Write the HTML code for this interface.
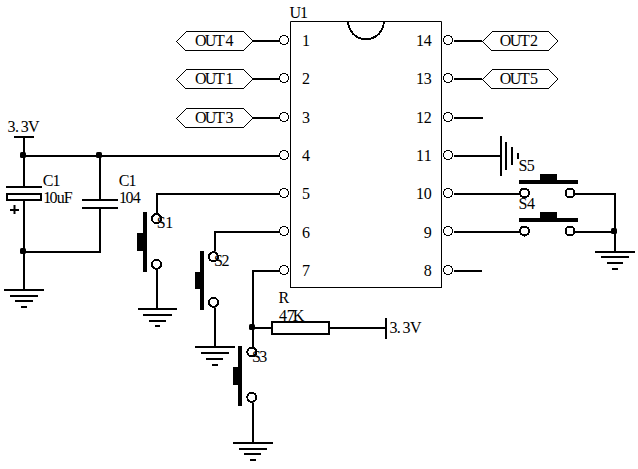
<!DOCTYPE html>
<html><head><meta charset="utf-8"><style>
html,body{margin:0;padding:0;background:#fff;width:638px;height:469px;overflow:hidden}
svg{display:block}
text{font-family:"Liberation Serif",serif;fill:#000;stroke:none}
</style></head><body>
<svg width="638" height="469" viewBox="0 0 638 469" stroke="#000" stroke-linecap="butt">
<rect x="0" y="0" width="638" height="469" fill="#fff" stroke="none"/>
<path d="M290.5 288 V21.5 H441.5 V288" fill="none" stroke-width="1"/>
<line x1="290" y1="287.5" x2="442" y2="287.5" stroke-width="1"/>
<path d="M348.2 21.5 A17.8 17.8 0 0 0 383.8 21.5" fill="none" stroke-width="2" shape-rendering="crispEdges"/>
<text x="289.50 300.10" y="18" font-size="16">U1</text>
<text x="302.00" y="46" font-size="16">1</text>
<text x="302.00" y="84" font-size="16">2</text>
<text x="302.00" y="123" font-size="16">3</text>
<text x="302.00" y="161" font-size="16">4</text>
<text x="302.00" y="199" font-size="16">5</text>
<text x="302.00" y="238" font-size="16">6</text>
<text x="302.00" y="276" font-size="16">7</text>
<text x="415.90 423.80" y="46" font-size="16">14</text>
<text x="415.90 423.80" y="84" font-size="16">13</text>
<text x="415.90 423.80" y="123" font-size="16">12</text>
<text x="415.90 423.80" y="161" font-size="16">11</text>
<text x="415.90 423.80" y="199" font-size="16">10</text>
<text x="423.70" y="238" font-size="16">9</text>
<text x="423.70" y="276" font-size="16">8</text>
<path d="M282 35h1v1h-1zM283 35h1v1h-1zM284 35h1v1h-1zM285 35h1v1h-1zM280 36h1v1h-1zM281 36h1v1h-1zM286 36h1v1h-1zM287 36h1v1h-1zM280 37h1v1h-1zM287 37h1v1h-1zM279 38h1v1h-1zM288 38h1v1h-1zM279 39h1v1h-1zM288 39h1v1h-1zM279 40h1v1h-1zM288 40h1v1h-1zM279 41h1v1h-1zM288 41h1v1h-1zM280 42h1v1h-1zM287 42h1v1h-1zM280 43h1v1h-1zM281 43h1v1h-1zM286 43h1v1h-1zM287 43h1v1h-1zM282 44h1v1h-1zM283 44h1v1h-1zM284 44h1v1h-1zM285 44h1v1h-1zM282 73h1v1h-1zM283 73h1v1h-1zM284 73h1v1h-1zM285 73h1v1h-1zM280 74h1v1h-1zM281 74h1v1h-1zM286 74h1v1h-1zM287 74h1v1h-1zM280 75h1v1h-1zM287 75h1v1h-1zM279 76h1v1h-1zM288 76h1v1h-1zM279 77h1v1h-1zM288 77h1v1h-1zM279 78h1v1h-1zM288 78h1v1h-1zM279 79h1v1h-1zM288 79h1v1h-1zM280 80h1v1h-1zM287 80h1v1h-1zM280 81h1v1h-1zM281 81h1v1h-1zM286 81h1v1h-1zM287 81h1v1h-1zM282 82h1v1h-1zM283 82h1v1h-1zM284 82h1v1h-1zM285 82h1v1h-1zM282 112h1v1h-1zM283 112h1v1h-1zM284 112h1v1h-1zM285 112h1v1h-1zM280 113h1v1h-1zM281 113h1v1h-1zM286 113h1v1h-1zM287 113h1v1h-1zM280 114h1v1h-1zM287 114h1v1h-1zM279 115h1v1h-1zM288 115h1v1h-1zM279 116h1v1h-1zM288 116h1v1h-1zM279 117h1v1h-1zM288 117h1v1h-1zM279 118h1v1h-1zM288 118h1v1h-1zM280 119h1v1h-1zM287 119h1v1h-1zM280 120h1v1h-1zM281 120h1v1h-1zM286 120h1v1h-1zM287 120h1v1h-1zM282 121h1v1h-1zM283 121h1v1h-1zM284 121h1v1h-1zM285 121h1v1h-1zM282 150h1v1h-1zM283 150h1v1h-1zM284 150h1v1h-1zM285 150h1v1h-1zM280 151h1v1h-1zM281 151h1v1h-1zM286 151h1v1h-1zM287 151h1v1h-1zM280 152h1v1h-1zM287 152h1v1h-1zM279 153h1v1h-1zM288 153h1v1h-1zM279 154h1v1h-1zM288 154h1v1h-1zM279 155h1v1h-1zM288 155h1v1h-1zM279 156h1v1h-1zM288 156h1v1h-1zM280 157h1v1h-1zM287 157h1v1h-1zM280 158h1v1h-1zM281 158h1v1h-1zM286 158h1v1h-1zM287 158h1v1h-1zM282 159h1v1h-1zM283 159h1v1h-1zM284 159h1v1h-1zM285 159h1v1h-1zM282 188h1v1h-1zM283 188h1v1h-1zM284 188h1v1h-1zM285 188h1v1h-1zM280 189h1v1h-1zM281 189h1v1h-1zM286 189h1v1h-1zM287 189h1v1h-1zM280 190h1v1h-1zM287 190h1v1h-1zM279 191h1v1h-1zM288 191h1v1h-1zM279 192h1v1h-1zM288 192h1v1h-1zM279 193h1v1h-1zM288 193h1v1h-1zM279 194h1v1h-1zM288 194h1v1h-1zM280 195h1v1h-1zM287 195h1v1h-1zM280 196h1v1h-1zM281 196h1v1h-1zM286 196h1v1h-1zM287 196h1v1h-1zM282 197h1v1h-1zM283 197h1v1h-1zM284 197h1v1h-1zM285 197h1v1h-1zM282 226h1v1h-1zM283 226h1v1h-1zM284 226h1v1h-1zM285 226h1v1h-1zM280 227h1v1h-1zM281 227h1v1h-1zM286 227h1v1h-1zM287 227h1v1h-1zM280 228h1v1h-1zM287 228h1v1h-1zM279 229h1v1h-1zM288 229h1v1h-1zM279 230h1v1h-1zM288 230h1v1h-1zM279 231h1v1h-1zM288 231h1v1h-1zM279 232h1v1h-1zM288 232h1v1h-1zM280 233h1v1h-1zM287 233h1v1h-1zM280 234h1v1h-1zM281 234h1v1h-1zM286 234h1v1h-1zM287 234h1v1h-1zM282 235h1v1h-1zM283 235h1v1h-1zM284 235h1v1h-1zM285 235h1v1h-1zM282 265h1v1h-1zM283 265h1v1h-1zM284 265h1v1h-1zM285 265h1v1h-1zM280 266h1v1h-1zM281 266h1v1h-1zM286 266h1v1h-1zM287 266h1v1h-1zM280 267h1v1h-1zM287 267h1v1h-1zM279 268h1v1h-1zM288 268h1v1h-1zM279 269h1v1h-1zM288 269h1v1h-1zM279 270h1v1h-1zM288 270h1v1h-1zM279 271h1v1h-1zM288 271h1v1h-1zM280 272h1v1h-1zM287 272h1v1h-1zM280 273h1v1h-1zM281 273h1v1h-1zM286 273h1v1h-1zM287 273h1v1h-1zM282 274h1v1h-1zM283 274h1v1h-1zM284 274h1v1h-1zM285 274h1v1h-1zM446 35h1v1h-1zM447 35h1v1h-1zM448 35h1v1h-1zM449 35h1v1h-1zM444 36h1v1h-1zM445 36h1v1h-1zM450 36h1v1h-1zM451 36h1v1h-1zM444 37h1v1h-1zM451 37h1v1h-1zM443 38h1v1h-1zM452 38h1v1h-1zM443 39h1v1h-1zM452 39h1v1h-1zM443 40h1v1h-1zM452 40h1v1h-1zM443 41h1v1h-1zM452 41h1v1h-1zM444 42h1v1h-1zM451 42h1v1h-1zM444 43h1v1h-1zM445 43h1v1h-1zM450 43h1v1h-1zM451 43h1v1h-1zM446 44h1v1h-1zM447 44h1v1h-1zM448 44h1v1h-1zM449 44h1v1h-1zM446 73h1v1h-1zM447 73h1v1h-1zM448 73h1v1h-1zM449 73h1v1h-1zM444 74h1v1h-1zM445 74h1v1h-1zM450 74h1v1h-1zM451 74h1v1h-1zM444 75h1v1h-1zM451 75h1v1h-1zM443 76h1v1h-1zM452 76h1v1h-1zM443 77h1v1h-1zM452 77h1v1h-1zM443 78h1v1h-1zM452 78h1v1h-1zM443 79h1v1h-1zM452 79h1v1h-1zM444 80h1v1h-1zM451 80h1v1h-1zM444 81h1v1h-1zM445 81h1v1h-1zM450 81h1v1h-1zM451 81h1v1h-1zM446 82h1v1h-1zM447 82h1v1h-1zM448 82h1v1h-1zM449 82h1v1h-1zM446 112h1v1h-1zM447 112h1v1h-1zM448 112h1v1h-1zM449 112h1v1h-1zM444 113h1v1h-1zM445 113h1v1h-1zM450 113h1v1h-1zM451 113h1v1h-1zM444 114h1v1h-1zM451 114h1v1h-1zM443 115h1v1h-1zM452 115h1v1h-1zM443 116h1v1h-1zM452 116h1v1h-1zM443 117h1v1h-1zM452 117h1v1h-1zM443 118h1v1h-1zM452 118h1v1h-1zM444 119h1v1h-1zM451 119h1v1h-1zM444 120h1v1h-1zM445 120h1v1h-1zM450 120h1v1h-1zM451 120h1v1h-1zM446 121h1v1h-1zM447 121h1v1h-1zM448 121h1v1h-1zM449 121h1v1h-1zM446 150h1v1h-1zM447 150h1v1h-1zM448 150h1v1h-1zM449 150h1v1h-1zM444 151h1v1h-1zM445 151h1v1h-1zM450 151h1v1h-1zM451 151h1v1h-1zM444 152h1v1h-1zM451 152h1v1h-1zM443 153h1v1h-1zM452 153h1v1h-1zM443 154h1v1h-1zM452 154h1v1h-1zM443 155h1v1h-1zM452 155h1v1h-1zM443 156h1v1h-1zM452 156h1v1h-1zM444 157h1v1h-1zM451 157h1v1h-1zM444 158h1v1h-1zM445 158h1v1h-1zM450 158h1v1h-1zM451 158h1v1h-1zM446 159h1v1h-1zM447 159h1v1h-1zM448 159h1v1h-1zM449 159h1v1h-1zM446 188h1v1h-1zM447 188h1v1h-1zM448 188h1v1h-1zM449 188h1v1h-1zM444 189h1v1h-1zM445 189h1v1h-1zM450 189h1v1h-1zM451 189h1v1h-1zM444 190h1v1h-1zM451 190h1v1h-1zM443 191h1v1h-1zM452 191h1v1h-1zM443 192h1v1h-1zM452 192h1v1h-1zM443 193h1v1h-1zM452 193h1v1h-1zM443 194h1v1h-1zM452 194h1v1h-1zM444 195h1v1h-1zM451 195h1v1h-1zM444 196h1v1h-1zM445 196h1v1h-1zM450 196h1v1h-1zM451 196h1v1h-1zM446 197h1v1h-1zM447 197h1v1h-1zM448 197h1v1h-1zM449 197h1v1h-1zM446 226h1v1h-1zM447 226h1v1h-1zM448 226h1v1h-1zM449 226h1v1h-1zM444 227h1v1h-1zM445 227h1v1h-1zM450 227h1v1h-1zM451 227h1v1h-1zM444 228h1v1h-1zM451 228h1v1h-1zM443 229h1v1h-1zM452 229h1v1h-1zM443 230h1v1h-1zM452 230h1v1h-1zM443 231h1v1h-1zM452 231h1v1h-1zM443 232h1v1h-1zM452 232h1v1h-1zM444 233h1v1h-1zM451 233h1v1h-1zM444 234h1v1h-1zM445 234h1v1h-1zM450 234h1v1h-1zM451 234h1v1h-1zM446 235h1v1h-1zM447 235h1v1h-1zM448 235h1v1h-1zM449 235h1v1h-1zM446 265h1v1h-1zM447 265h1v1h-1zM448 265h1v1h-1zM449 265h1v1h-1zM444 266h1v1h-1zM445 266h1v1h-1zM450 266h1v1h-1zM451 266h1v1h-1zM444 267h1v1h-1zM451 267h1v1h-1zM443 268h1v1h-1zM452 268h1v1h-1zM443 269h1v1h-1zM452 269h1v1h-1zM443 270h1v1h-1zM452 270h1v1h-1zM443 271h1v1h-1zM452 271h1v1h-1zM444 272h1v1h-1zM451 272h1v1h-1zM444 273h1v1h-1zM445 273h1v1h-1zM450 273h1v1h-1zM451 273h1v1h-1zM446 274h1v1h-1zM447 274h1v1h-1zM448 274h1v1h-1zM449 274h1v1h-1z" fill="#000" stroke="none" shape-rendering="crispEdges"/>
<path d="M186 31H244v1H186zM185 50H244v1H185z" fill="#000" stroke="none" shape-rendering="crispEdges"/>
<path d="M176 41h1v1h-1zM177 40h1v1h-1zM178 39h1v1h-1zM179 38h1v1h-1zM180 37h1v1h-1zM181 36h1v1h-1zM182 35h1v1h-1zM183 34h1v1h-1zM184 33h1v1h-1zM185 32h1v1h-1zM177 42h1v1h-1zM178 43h1v1h-1zM179 44h1v1h-1zM180 45h1v1h-1zM181 46h1v1h-1zM182 47h1v1h-1zM183 48h1v1h-1zM184 49h1v1h-1zM244 32h1v1h-1zM245 33h1v1h-1zM246 34h1v1h-1zM247 35h1v1h-1zM248 36h1v1h-1zM249 37h1v1h-1zM250 38h1v1h-1zM251 39h1v1h-1zM252 40h1v1h-1zM252 41h1v1h-1zM251 42h1v1h-1zM250 43h1v1h-1zM249 44h1v1h-1zM248 45h1v1h-1zM247 46h1v1h-1zM246 47h1v1h-1zM245 48h1v1h-1zM244 49h1v1h-1z" fill="#000" stroke="none" shape-rendering="crispEdges"/>
<text x="194.90 204.70 215.10 225.60" y="46" font-size="16">OUT4</text>
<line x1="253" y1="41" x2="280" y2="41" stroke-width="2"/>
<path d="M186 69H244v1H186zM185 88H244v1H185z" fill="#000" stroke="none" shape-rendering="crispEdges"/>
<path d="M176 79h1v1h-1zM177 78h1v1h-1zM178 77h1v1h-1zM179 76h1v1h-1zM180 75h1v1h-1zM181 74h1v1h-1zM182 73h1v1h-1zM183 72h1v1h-1zM184 71h1v1h-1zM185 70h1v1h-1zM177 80h1v1h-1zM178 81h1v1h-1zM179 82h1v1h-1zM180 83h1v1h-1zM181 84h1v1h-1zM182 85h1v1h-1zM183 86h1v1h-1zM184 87h1v1h-1zM244 70h1v1h-1zM245 71h1v1h-1zM246 72h1v1h-1zM247 73h1v1h-1zM248 74h1v1h-1zM249 75h1v1h-1zM250 76h1v1h-1zM251 77h1v1h-1zM252 78h1v1h-1zM252 79h1v1h-1zM251 80h1v1h-1zM250 81h1v1h-1zM249 82h1v1h-1zM248 83h1v1h-1zM247 84h1v1h-1zM246 85h1v1h-1zM245 86h1v1h-1zM244 87h1v1h-1z" fill="#000" stroke="none" shape-rendering="crispEdges"/>
<text x="194.90 204.70 215.10 225.60" y="84" font-size="16">OUT1</text>
<line x1="253" y1="79" x2="280" y2="79" stroke-width="2"/>
<path d="M186 108H244v1H186zM185 127H244v1H185z" fill="#000" stroke="none" shape-rendering="crispEdges"/>
<path d="M176 118h1v1h-1zM177 117h1v1h-1zM178 116h1v1h-1zM179 115h1v1h-1zM180 114h1v1h-1zM181 113h1v1h-1zM182 112h1v1h-1zM183 111h1v1h-1zM184 110h1v1h-1zM185 109h1v1h-1zM177 119h1v1h-1zM178 120h1v1h-1zM179 121h1v1h-1zM180 122h1v1h-1zM181 123h1v1h-1zM182 124h1v1h-1zM183 125h1v1h-1zM184 126h1v1h-1zM244 109h1v1h-1zM245 110h1v1h-1zM246 111h1v1h-1zM247 112h1v1h-1zM248 113h1v1h-1zM249 114h1v1h-1zM250 115h1v1h-1zM251 116h1v1h-1zM252 117h1v1h-1zM252 118h1v1h-1zM251 119h1v1h-1zM250 120h1v1h-1zM249 121h1v1h-1zM248 122h1v1h-1zM247 123h1v1h-1zM246 124h1v1h-1zM245 125h1v1h-1zM244 126h1v1h-1z" fill="#000" stroke="none" shape-rendering="crispEdges"/>
<text x="194.90 204.70 215.10 225.60" y="123" font-size="16">OUT3</text>
<line x1="253" y1="118" x2="280" y2="118" stroke-width="2"/>
<path d="M492 31H549v1H492zM491 50H549v1H491z" fill="#000" stroke="none" shape-rendering="crispEdges"/>
<path d="M482 41h1v1h-1zM483 40h1v1h-1zM484 39h1v1h-1zM485 38h1v1h-1zM486 37h1v1h-1zM487 36h1v1h-1zM488 35h1v1h-1zM489 34h1v1h-1zM490 33h1v1h-1zM491 32h1v1h-1zM483 42h1v1h-1zM484 43h1v1h-1zM485 44h1v1h-1zM486 45h1v1h-1zM487 46h1v1h-1zM488 47h1v1h-1zM489 48h1v1h-1zM490 49h1v1h-1zM549 32h1v1h-1zM550 33h1v1h-1zM551 34h1v1h-1zM552 35h1v1h-1zM553 36h1v1h-1zM554 37h1v1h-1zM555 38h1v1h-1zM556 39h1v1h-1zM557 40h1v1h-1zM557 41h1v1h-1zM556 42h1v1h-1zM555 43h1v1h-1zM554 44h1v1h-1zM553 45h1v1h-1zM552 46h1v1h-1zM551 47h1v1h-1zM550 48h1v1h-1zM549 49h1v1h-1z" fill="#000" stroke="none" shape-rendering="crispEdges"/>
<text x="499.80 509.70 519.90 529.90" y="46" font-size="16">OUT2</text>
<line x1="454" y1="41" x2="482" y2="41" stroke-width="2"/>
<path d="M492 69H549v1H492zM491 88H549v1H491z" fill="#000" stroke="none" shape-rendering="crispEdges"/>
<path d="M482 79h1v1h-1zM483 78h1v1h-1zM484 77h1v1h-1zM485 76h1v1h-1zM486 75h1v1h-1zM487 74h1v1h-1zM488 73h1v1h-1zM489 72h1v1h-1zM490 71h1v1h-1zM491 70h1v1h-1zM483 80h1v1h-1zM484 81h1v1h-1zM485 82h1v1h-1zM486 83h1v1h-1zM487 84h1v1h-1zM488 85h1v1h-1zM489 86h1v1h-1zM490 87h1v1h-1zM549 70h1v1h-1zM550 71h1v1h-1zM551 72h1v1h-1zM552 73h1v1h-1zM553 74h1v1h-1zM554 75h1v1h-1zM555 76h1v1h-1zM556 77h1v1h-1zM557 78h1v1h-1zM557 79h1v1h-1zM556 80h1v1h-1zM555 81h1v1h-1zM554 82h1v1h-1zM553 83h1v1h-1zM552 84h1v1h-1zM551 85h1v1h-1zM550 86h1v1h-1zM549 87h1v1h-1z" fill="#000" stroke="none" shape-rendering="crispEdges"/>
<text x="499.80 509.70 519.90 529.90" y="84" font-size="16">OUT5</text>
<line x1="454" y1="79" x2="482" y2="79" stroke-width="2"/>
<line x1="454" y1="118" x2="483" y2="118" stroke-width="2"/>
<line x1="454" y1="271" x2="482" y2="271" stroke-width="2"/>
<line x1="454" y1="156" x2="501" y2="156" stroke-width="2"/>
<line x1="501" y1="136" x2="501" y2="176" stroke-width="2"/>
<line x1="506" y1="142" x2="506" y2="170" stroke-width="2"/>
<line x1="512" y1="147" x2="512" y2="165" stroke-width="2"/>
<line x1="518" y1="153" x2="518" y2="159" stroke-width="2"/>
<rect x="519" y="180" width="59" height="4" fill="#000" stroke="none"/>
<rect x="540" y="174" width="17" height="6" fill="#000" stroke="none"/>
<circle cx="524.5" cy="193" r="4.5" fill="none" stroke-width="2" shape-rendering="crispEdges"/>
<circle cx="570" cy="193" r="4.5" fill="none" stroke-width="2" shape-rendering="crispEdges"/>
<line x1="454" y1="194" x2="519.5" y2="194" stroke-width="2"/>
<line x1="575" y1="194" x2="616" y2="194" stroke-width="2"/>
<rect x="519" y="218" width="59" height="4" fill="#000" stroke="none"/>
<rect x="540" y="212" width="17" height="6" fill="#000" stroke="none"/>
<circle cx="524.5" cy="231" r="4.5" fill="none" stroke-width="2" shape-rendering="crispEdges"/>
<circle cx="570" cy="231" r="4.5" fill="none" stroke-width="2" shape-rendering="crispEdges"/>
<line x1="454" y1="232" x2="519.5" y2="232" stroke-width="2"/>
<line x1="575" y1="232" x2="616" y2="232" stroke-width="2"/>
<text x="518.50 526.70" y="171" font-size="16">S5</text>
<text x="518.50 526.90" y="209" font-size="16">S4</text>
<line x1="615" y1="193" x2="615" y2="252" stroke-width="2"/>
<rect x="611" y="228" width="6" height="6" rx="1.6" fill="#000" stroke="none"/>
<line x1="595" y1="252" x2="635" y2="252" stroke-width="2"/>
<line x1="601" y1="257" x2="629" y2="257" stroke-width="2"/>
<line x1="607" y1="263" x2="623" y2="263" stroke-width="2"/>
<line x1="612" y1="269" x2="618" y2="269" stroke-width="2"/>
<text x="7.50 15.00 20.80 28.10" y="132" font-size="16">3.3V</text>
<line x1="14" y1="137" x2="34" y2="137" stroke-width="2"/>
<line x1="24" y1="137" x2="24" y2="187" stroke-width="2"/>
<line x1="24" y1="201" x2="24" y2="290" stroke-width="2"/>
<rect x="20" y="152" width="6" height="6" rx="1.6" fill="#000" stroke="none"/>
<line x1="24" y1="156" x2="280" y2="156" stroke-width="2"/>
<line x1="6" y1="187" x2="42" y2="187" stroke-width="2"/>
<rect x="7" y="194" width="34" height="6" fill="none" stroke-width="2"/>
<line x1="10" y1="210" x2="19" y2="210" stroke-width="2"/>
<line x1="14.5" y1="205" x2="14.5" y2="214" stroke-width="2"/>
<text x="42.80 52.40" y="186" font-size="16">C1</text>
<text x="43.30 49.50 56.80 63.80" y="203" font-size="16">10uF</text>
<line x1="100" y1="156" x2="100" y2="200" stroke-width="2"/>
<line x1="100" y1="208" x2="100" y2="252" stroke-width="2"/>
<rect x="96" y="152" width="6" height="6" rx="1.6" fill="#000" stroke="none"/>
<line x1="82" y1="200" x2="118" y2="200" stroke-width="2"/>
<line x1="82" y1="208" x2="118" y2="208" stroke-width="2"/>
<text x="118.80 128.50" y="186" font-size="16">C1</text>
<text x="119.00 125.60 132.80" y="203" font-size="16">104</text>
<line x1="24" y1="252" x2="101" y2="252" stroke-width="2"/>
<rect x="20" y="248" width="6" height="6" rx="1.6" fill="#000" stroke="none"/>
<line x1="4" y1="290" x2="44" y2="290" stroke-width="2"/>
<line x1="10" y1="296" x2="38" y2="296" stroke-width="2"/>
<line x1="15" y1="301" x2="33" y2="301" stroke-width="2"/>
<line x1="21" y1="307" x2="27" y2="307" stroke-width="2"/>
<line x1="156" y1="194" x2="280" y2="194" stroke-width="2"/>
<line x1="157" y1="193" x2="157" y2="213" stroke-width="2"/>
<rect x="143" y="212" width="4" height="60" fill="#000" stroke="none"/>
<rect x="137" y="233" width="6" height="18" fill="#000" stroke="none"/>
<circle cx="156.5" cy="218.5" r="4.5" fill="none" stroke-width="2" shape-rendering="crispEdges"/>
<circle cx="156.5" cy="264.3" r="4.5" fill="none" stroke-width="2" shape-rendering="crispEdges"/>
<line x1="157" y1="269.5" x2="157" y2="309" stroke-width="2"/>
<line x1="138" y1="309" x2="177" y2="309" stroke-width="2"/>
<line x1="143" y1="315" x2="172" y2="315" stroke-width="2"/>
<line x1="149" y1="321" x2="166" y2="321" stroke-width="2"/>
<line x1="155" y1="326" x2="160" y2="326" stroke-width="2"/>
<text x="156.70 165.30" y="228" font-size="16">S1</text>
<line x1="214" y1="232" x2="280" y2="232" stroke-width="2"/>
<line x1="215" y1="231" x2="215" y2="251.5" stroke-width="2"/>
<rect x="200" y="251" width="4" height="59" fill="#000" stroke="none"/>
<rect x="195" y="272" width="5" height="17" fill="#000" stroke="none"/>
<circle cx="213.5" cy="256.8" r="4.5" fill="none" stroke-width="2" shape-rendering="crispEdges"/>
<circle cx="213.5" cy="302.3" r="4.5" fill="none" stroke-width="2" shape-rendering="crispEdges"/>
<line x1="215" y1="307.5" x2="215" y2="347" stroke-width="2"/>
<line x1="195" y1="347" x2="235" y2="347" stroke-width="2"/>
<line x1="201" y1="353" x2="229" y2="353" stroke-width="2"/>
<line x1="206" y1="359" x2="223" y2="359" stroke-width="2"/>
<line x1="212" y1="365" x2="218" y2="365" stroke-width="2"/>
<text x="213.90 221.40" y="266" font-size="16">S2</text>
<line x1="252" y1="271" x2="280" y2="271" stroke-width="2"/>
<line x1="253" y1="270" x2="253" y2="347" stroke-width="2"/>
<rect x="249" y="324" width="6" height="6" rx="1.6" fill="#000" stroke="none"/>
<line x1="253" y1="328" x2="272" y2="328" stroke-width="2"/>
<rect x="272" y="322" width="57" height="12" fill="none" stroke-width="2"/>
<line x1="330" y1="328" x2="386" y2="328" stroke-width="2"/>
<line x1="386" y1="318" x2="386" y2="339" stroke-width="2"/>
<text x="389.50 396.80 402.60 410.10" y="333" font-size="16">3.3V</text>
<text x="278.50" y="303" font-size="16">R</text>
<text x="279.10 286.80 292.70" y="321" font-size="16">47K</text>
<rect x="238" y="346" width="4" height="60" fill="#000" stroke="none"/>
<rect x="233" y="367" width="5" height="18" fill="#000" stroke="none"/>
<circle cx="251.8" cy="352" r="4.5" fill="none" stroke-width="2" shape-rendering="crispEdges"/>
<circle cx="251.8" cy="397.3" r="4.5" fill="none" stroke-width="2" shape-rendering="crispEdges"/>
<line x1="253" y1="402.5" x2="253" y2="443" stroke-width="2"/>
<line x1="233" y1="443" x2="273" y2="443" stroke-width="2"/>
<line x1="239" y1="449" x2="267" y2="449" stroke-width="2"/>
<line x1="244" y1="454" x2="261" y2="454" stroke-width="2"/>
<line x1="250" y1="460" x2="256" y2="460" stroke-width="2"/>
<text x="251.90 259.30" y="362" font-size="16">S3</text>
</svg>
</body></html>
